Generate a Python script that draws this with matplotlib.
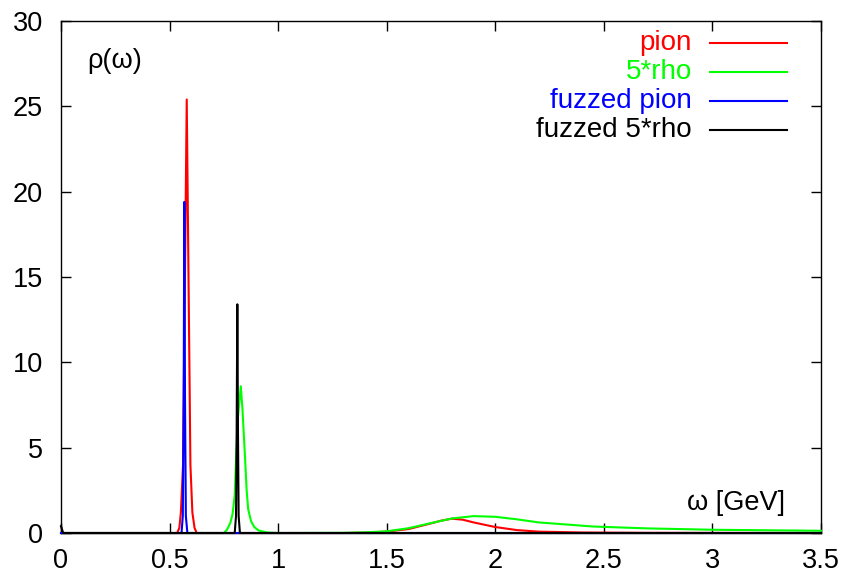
import matplotlib
matplotlib.use("Agg")
import matplotlib.pyplot as plt

plt.rcParams["font.family"] = ["Liberation Sans", "DejaVu Sans"]

# spectral functions (omega in GeV)
pion_w = [0.0, 0.535, 0.545, 0.552, 0.562, 0.570, 0.579, 0.588, 0.596, 0.605,
          0.615, 0.625, 1.3, 1.4, 1.5, 1.6, 1.7, 1.75, 1.8, 1.85, 1.9, 2.0,
          2.1, 2.2, 2.4, 2.7, 3.5]
pion_r = [0.0, 0.0, 0.3, 1.2, 4.0, 14.0, 25.4, 14.0, 4.0, 1.2,
          0.3, 0.0, 0.0, 0.02, 0.08, 0.23, 0.55, 0.72, 0.84, 0.78, 0.62, 0.35,
          0.17, 0.08, 0.03, 0.01, 0.0]

rho_w = [0.0, 0.75, 0.765, 0.78, 0.79, 0.80, 0.806, 0.815, 0.828, 0.836,
         0.848, 0.855, 0.862, 0.875, 0.89, 0.91, 0.95, 1.0, 1.3, 1.4, 1.5,
         1.6, 1.7, 1.8, 1.9, 2.0, 2.1, 2.2, 2.45, 2.7, 3.0, 3.5]
rho_r = [0.0, 0.0, 0.2, 0.6, 1.1, 2.2, 4.3, 6.8, 8.6, 7.2,
         4.3, 2.5, 1.4, 0.7, 0.35, 0.15, 0.03, 0.0, 0.01, 0.04, 0.1,
         0.28, 0.57, 0.85, 0.99, 0.95, 0.8, 0.62, 0.38, 0.27, 0.19, 0.13]

fpion_w = [0.0, 0.555, 0.561, 0.565, 0.568, 0.571, 0.575, 0.582, 3.5]
fpion_r = [0.0, 0.0, 1.0, 8.0, 19.4, 8.0, 1.0, 0.0, 0.0]

frho_w = [0.0, 0.01, 0.8, 0.806, 0.809, 0.812, 0.815, 0.818, 0.824, 3.5]
frho_r = [0.4, 0.0, 0.0, 1.0, 6.0, 13.4, 6.0, 1.0, 0.0, 0.0]

labels = ["pion", "5*rho", "fuzzed pion", "fuzzed 5*rho"]
colors = ["#ff0000", "#00ff00", "#0000ff", "#000000"]
xticks = [0, 0.5, 1, 1.5, 2, 2.5, 3, 3.5]
xticklabels = ["0", "0.5", "1", "1.5", "2", "2.5", "3", "3.5"]
yticks = [0, 5, 10, 15, 20, 25, 30]

fig = plt.figure(figsize=(8.43, 5.74), dpi=100)
ax = fig.add_axes([61 / 843, 41 / 574, 760 / 843, 512 / 574])

series = [(pion_w, pion_r), (rho_w, rho_r), (fpion_w, fpion_r), (frho_w, frho_r)]
for (w, r), c in zip(series, colors):
    ax.plot(w, r, color=c, lw=1.5, clip_on=False, zorder=3)

ax.set_xlim(0, 3.5)
ax.set_ylim(0, 30)
ax.set_xticks(xticks)
ax.set_xticklabels(xticklabels)
ax.set_yticks(yticks)
ax.tick_params(direction="in", length=7, width=1, top=True, right=True,
               labelsize=19.5)
ax.tick_params(axis="x", pad=11)
ax.tick_params(axis="y", pad=13)
for s in ax.spines.values():
    s.set_linewidth(1)

# gnuplot-style key: right-aligned text followed by sample line
ys = [0.957, 0.901, 0.844, 0.788]
for lab, c, y in zip(labels, colors, ys):
    ax.text(0.830, y, lab, color=c, fontsize=20, ha="right", va="center",
            transform=ax.transAxes)
    ax.plot([0.854, 0.955], [y, y], color=c, lw=1.5, transform=ax.transAxes)

ax.text(0.034, 0.922, "ρ(ω)", fontsize=19.5, ha="left", va="center",
        transform=ax.transAxes)
ax.text(0.953, 0.058, "ω [GeV]", fontsize=19.5, ha="right", va="center",
        transform=ax.transAxes)

fig.savefig("out.png", dpi=100)
